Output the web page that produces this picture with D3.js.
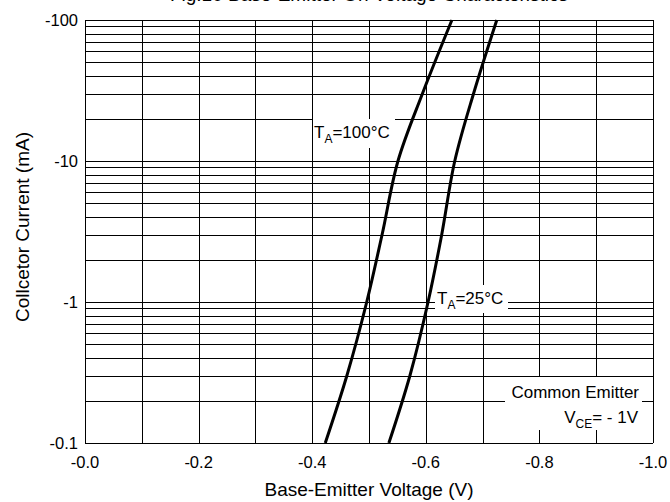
<!DOCTYPE html>
<html>
  <head>
    <title>Base-Emitter Voltage</title>
    <script src="https://d3js.org/d3.v7.min.js"></script>
    <style>
      body { margin: 0; background: #fff; overflow: hidden; }
      svg { display: block; font-family: "Liberation Sans", Arial, sans-serif; }
      .grid line { stroke: #000; stroke-width: 1px; shape-rendering: crispEdges; }
      .tick-label { font-size: 16.5px; fill: #000; }
      .axis-title { font-size: 19px; fill: #000; }
      .note { font-size: 17px; fill: #000; }
    </style>
  </head>
  <body>
    <svg width="670" height="502"></svg>
    <script>
      // collector current (mA, magnitude) and base-emitter voltage (V, magnitude)
      const currents = [0.1, 0.3, 1, 3, 10, 30, 100];
      const vbe25 = [0.535, 0.572, 0.604, 0.628, 0.651, 0.684, 0.725];
      const vbe100 = [0.423, 0.461, 0.496, 0.523, 0.551, 0.594, 0.646];

      const xTicks = [0, 0.2, 0.4, 0.6, 0.8, 1.0];
      const xTickLabels = ["-0.0", "-0.2", "-0.4", "-0.6", "-0.8", "-1.0"];
      const yTicks = [0.1, 1, 10, 100];
      const yTickLabels = ["-0.1", "-1", "-10", "-100"];

      const margin = {top: 20, right: 17, bottom: 59, left: 85};
      const svg = d3.select("svg");
      const width = +svg.attr("width");
      const height = +svg.attr("height");
      const innerWidth = width - margin.left - margin.right;
      const innerHeight = height - margin.top - margin.bottom;

      const xScale = d3.scaleLinear().domain([0, 1]).range([0, innerWidth]);
      const yScale = d3.scaleLog().domain([0.1, 100]).range([innerHeight, 0]);

      // title, cut off by the top edge in the original
      svg.append("text")
        .attr("x", margin.left + innerWidth / 2)
        .attr("y", 0.5)
        .attr("text-anchor", "middle")
        .style("font-size", "19px")
        .text("Fig.10 Base-Emitter On Voltage Characteristics");

      const g = svg.append("g")
        .attr("transform", `translate(${margin.left}, ${margin.top})`);

      // grid
      const grid = g.append("g").attr("class", "grid");
      const xGrid = d3.range(0, 11).map(i => i / 10);
      grid.selectAll(".v").data(xGrid).enter().append("line")
        .attr("x1", d => Math.round(xScale(d)) + 0.5)
        .attr("x2", d => Math.round(xScale(d)) + 0.5)
        .attr("y1", 0).attr("y2", innerHeight);
      const yGrid = [];
      [0.1, 1, 10].forEach(dec => { for (let k = 1; k <= 10; k++) yGrid.push(dec * k); });
      grid.selectAll(".h").data(yGrid).enter().append("line")
        .attr("x1", 0).attr("x2", innerWidth)
        .attr("y1", d => Math.round(yScale(d)) + 0.5)
        .attr("y2", d => Math.round(yScale(d)) + 0.5);

      // tick labels
      g.selectAll(".xl").data(xTicks).enter().append("text")
        .attr("class", "tick-label")
        .attr("x", d => xScale(d))
        .attr("y", innerHeight + 25)
        .attr("text-anchor", "middle")
        .text((d, i) => xTickLabels[i]);
      g.selectAll(".yl").data(yTicks).enter().append("text")
        .attr("class", "tick-label")
        .attr("x", -7)
        .attr("y", d => yScale(d) + 6)
        .attr("text-anchor", "end")
        .text((d, i) => yTickLabels[i]);

      svg.append("text")
        .attr("class", "axis-title")
        .attr("x", margin.left + innerWidth / 2)
        .attr("y", 496)
        .attr("text-anchor", "middle")
        .text("Base-Emitter Voltage (V)");
      svg.append("text")
        .attr("class", "axis-title")
        .attr("transform", "translate(29, 227) rotate(-90)")
        .attr("text-anchor", "middle")
        .text("Collcetor Current (mA)");

      // curves
      const line = d3.line()
        .x(d => xScale(d[0]))
        .y(d => yScale(d[1]))
        .curve(d3.curveCatmullRom);
      [vbe100, vbe25].forEach(v => {
        g.append("path")
          .datum(currents.map((c, i) => [v[i], c]))
          .attr("fill", "none")
          .attr("stroke", "#000")
          .attr("stroke-width", 3)
          .attr("d", line);
      });

      // notes with white boxes
      function note(x, y, parts, anchor) {
        const t = g.append("text").attr("class", "note")
          .attr("x", x).attr("y", y).attr("text-anchor", anchor || "start");
        parts.forEach(p => {
          const s = t.append("tspan").text(p.t);
          if (p.sub) s.attr("dy", 5).style("font-size", "12px");
          if (p.up) s.attr("dy", -5);
        });
        return t;
      }
      function box(x0, y0, x1, y1) {
        g.append("rect").attr("x", x0).attr("y", y0)
          .attr("width", x1 - x0).attr("height", y1 - y0).attr("fill", "#fff");
      }
      box(228, 99, 310, 128);
      note(229, 118, [{t: "T"}, {t: "A", sub: true}, {t: "=100°C", up: true}]);
      box(350, 265, 423, 293);
      note(352, 284, [{t: "T"}, {t: "A", sub: true}, {t: "=25°C", up: true}]);
      box(420, 357, 557, 410);
      note(554, 378, [{t: "Common Emitter"}], "end");
      note(553, 403, [{t: "V"}, {t: "CE", sub: true}, {t: "= - 1V", up: true}], "end");
    </script>
  </body>
</html>
